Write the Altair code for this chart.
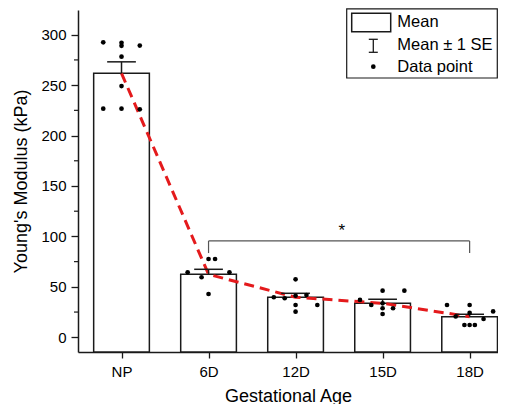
import json
import altair as alt
import pandas as pd

# ---------------- data ----------------
groups = ["NP", "6D", "12D", "15D", "18D"]
means = [261.7, 62.4, 39.7, 33.7, 20.4]
ses = [11.4, 5.0, 3.9, 4.0, 2.4]

np_vals = [292.4, 292.0, 289.0, 289.2, 278.2, 249.1, 226.7, 226.7, 226.0]
np_off = [-0.21, 0.0, 0.0, 0.21, 0.0, 0.0, -0.21, 0.0, 0.21]
d6_vals = [77.6, 77.6, 64.4, 59.5, 64.4, 42.9]
d6_off = [0.0, 0.075, -0.24, -0.08, 0.24, 0.0]
d12_vals = [57.5, 39.7, 38.7, 41.2, 41.9, 32.0, 32.0, 25.4]
d12_off = [0.0, -0.25, -0.125, 0.0, 0.125, 0.25, 0.0, 0.0]
d15_vals = [46.2, 46.2, 37.0, 32.0, 33.7, 28.8, 28.8, 23.1]
d15_off = [0.0, 0.25, -0.26, -0.13, 0.0, 0.12, 0.0, 0.0]
d18_vals = [32.0, 32.0, 25.6, 20.6, 24.1, 18.1, 12.2, 12.2, 12.2]
d18_off = [-0.26, 0.0, 0.27, -0.16, 0.0, 0.16, -0.06, 0.0, 0.06]

sig_from, sig_to = "6D", "18D"
sig_low, sig_high, sig_text_y = 83.5, 95.5, 105.5
sig_label = "*"

legend_labels = ["Mean", "Mean \u00b1 1 SE", "Data point"]

# ---------------- layout constants ----------------
Y_MIN, Y_MAX = -14.6, 324.5
X_MIN, X_MAX = 0.5, 5.326
W, H = 420, 342
FONT = "Liberation Sans"
RED = "#e41a1c"
INK = "#1a1a1a"

pos = {g: i + 1 for i, g in enumerate(groups)}

summary = pd.DataFrame({"group": groups, "mean": means, "se": ses})
summary["pos"] = summary["group"].map(pos)
summary["left"] = summary["pos"] - 0.32
summary["right"] = summary["pos"] + 0.32
summary["upper"] = summary["mean"] + summary["se"]
summary["capL"] = summary["pos"] - 0.165
summary["capR"] = summary["pos"] + 0.165
summary["base"] = Y_MIN

rows = []
for g, vals, offs in [("NP", np_vals, np_off), ("6D", d6_vals, d6_off),
                      ("12D", d12_vals, d12_off), ("15D", d15_vals, d15_off),
                      ("18D", d18_vals, d18_off)]:
    for v, o in zip(vals, offs):
        rows.append({"group": g, "value": v, "xp": pos[g] + o})
points = pd.DataFrame(rows)

xscale = alt.Scale(domain=[X_MIN, X_MAX], nice=False, zero=False)
yscale = alt.Scale(domain=[Y_MIN, Y_MAX], nice=False, zero=False)

label_expr = json.dumps(groups) + "[round(datum.value) - 1]"

xaxis = alt.Axis(values=[1, 2, 3, 4, 5], labelExpr=label_expr, title="Gestational Age",
                 grid=False, tickSize=6, labelPadding=6, titlePadding=8)
yaxis = alt.Axis(values=[0, 50, 100, 150, 200, 250, 300], title="Young's Modulus (kPa)",
                 grid=False, tickSize=7, labelPadding=5, titlePadding=10)

base = alt.Chart(summary)

bars = base.mark_rect(fill="white", stroke=INK, strokeWidth=1.5).encode(
    x=alt.X("left:Q", scale=xscale, axis=xaxis),
    x2="right:Q",
    y=alt.Y("mean:Q", scale=yscale, axis=yaxis),
    y2="base:Q",
)

err_v = base.mark_rule(color=INK, strokeWidth=1.5).encode(
    x=alt.X("pos:Q", scale=xscale), y=alt.Y("mean:Q", scale=yscale), y2="upper:Q")
err_cap = base.mark_rule(color=INK, strokeWidth=1.5).encode(
    x=alt.X("capL:Q", scale=xscale), x2="capR:Q", y=alt.Y("upper:Q", scale=yscale))

dots = alt.Chart(points).mark_circle(color="black", opacity=1, size=22).encode(
    x=alt.X("xp:Q", scale=xscale), y=alt.Y("value:Q", scale=yscale))

line = base.mark_line(color=RED, strokeWidth=3, strokeDash=[10, 6]).encode(
    x=alt.X("pos:Q", scale=xscale), y=alt.Y("mean:Q", scale=yscale))

# minor ticks on y axis
minor = pd.DataFrame({"v": [25, 75, 125, 175, 225, 275]})
minor_ticks = alt.Chart(minor).mark_rule(color=INK, strokeWidth=1.2).encode(
    y=alt.Y("v:Q", scale=yscale), x=alt.value(-4), x2=alt.value(0))

# significance bracket
br = pd.DataFrame({
    "x1": [pos[sig_from], pos[sig_from], pos[sig_to]],
    "x2": [pos[sig_to], pos[sig_from], pos[sig_to]],
    "y1": [sig_high, sig_low, sig_low],
    "y2": [sig_high, sig_high, sig_high],
})
bracket = alt.Chart(br).mark_rule(color="#555555", strokeWidth=1.2).encode(
    x=alt.X("x1:Q", scale=xscale), x2="x2:Q",
    y=alt.Y("y1:Q", scale=yscale), y2="y2:Q")
star = alt.Chart(pd.DataFrame({"x": [(pos[sig_from] + pos[sig_to]) / 2 + 0.03],
                               "y": [sig_text_y], "t": [sig_label]})).mark_text(
    font=FONT, fontSize=17, color="black", baseline="middle").encode(
    x=alt.X("x:Q", scale=xscale), y=alt.Y("y:Q", scale=yscale), text="t:N")

# legend (drawn as decoration)
one = pd.DataFrame({"a": [0]})
lg_box = alt.Chart(one).mark_rect(fill="white", stroke=INK, strokeWidth=1.2).encode(
    x=alt.value(268.7), x2=alt.value(419.3), y=alt.value(-1.2), y2=alt.value(68))
lg_rect = alt.Chart(one).mark_rect(fill="white", stroke=INK, strokeWidth=1.5).encode(
    x=alt.value(273.7), x2=alt.value(312.7), y=alt.value(3.3), y2=alt.value(21.7))
lg_ev = alt.Chart(one).mark_rule(color=INK, strokeWidth=1.3).encode(
    x=alt.value(295.3), y=alt.value(29.3), y2=alt.value(42.3))
lg_ct = alt.Chart(one).mark_rule(color=INK, strokeWidth=1.3).encode(
    x=alt.value(290.8), x2=alt.value(299.8), y=alt.value(29.3))
lg_cb = alt.Chart(one).mark_rule(color=INK, strokeWidth=1.3).encode(
    x=alt.value(290.8), x2=alt.value(299.8), y=alt.value(42.3))
lg_dot = alt.Chart(one).mark_circle(color="black", opacity=1, size=22).encode(
    x=alt.value(295.3), y=alt.value(56.7))

lg_y = [12, 35, 56.7]
lg_texts = [
    alt.Chart(pd.DataFrame({"t": [lab]})).mark_text(
        font=FONT, fontSize=16.5, align="left", baseline="middle", color="black").encode(
        x=alt.value(319.3), y=alt.value(yy), text="t:N")
    for lab, yy in zip(legend_labels, lg_y)
]

chart = alt.layer(
    bars, line, err_v, err_cap, dots, minor_ticks, bracket, star,
    lg_box, lg_rect, lg_ev, lg_ct, lg_cb, lg_dot, *lg_texts,
).properties(
    width=W, height=H,
    autosize=alt.AutoSizeParams(type="none"),
    padding={"left": 70, "top": 2, "right": 0, "bottom": 52},
).configure_view(stroke=None).configure_axis(
    domainColor=INK, domainWidth=1.5, tickColor=INK, tickWidth=1.3,
    labelFont=FONT, titleFont=FONT, labelFontSize=15, titleFontSize=18,
    labelColor="black", titleColor="black", titleFontWeight="normal",
)

chart.save("out.html", embed_options={"renderer": "svg", "actions": False})
